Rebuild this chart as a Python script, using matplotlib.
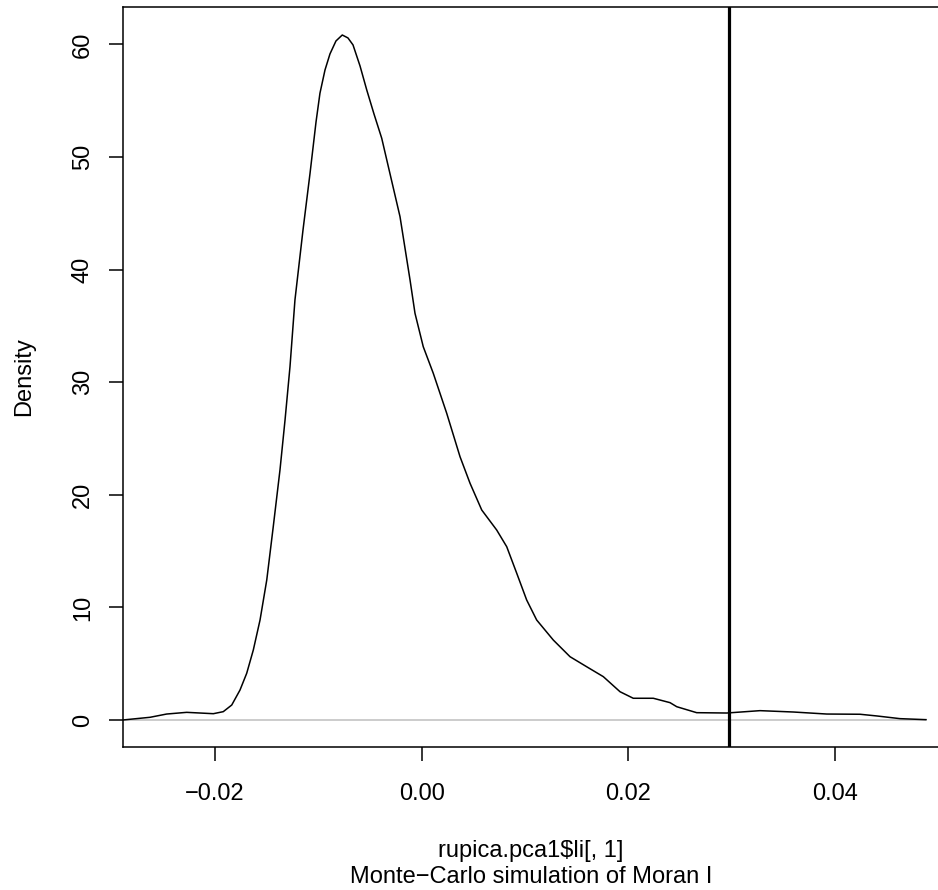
import matplotlib
matplotlib.use("Agg")
import matplotlib.pyplot as plt
import numpy as np

# density curve (Monte-Carlo simulation of Moran I)
dens_x = [-0.02894, -0.02630, -0.02469, -0.02275, -0.02146, -0.02017, -0.01921,
          -0.01839, -0.01759, -0.01694, -0.01630, -0.01565, -0.01500, -0.01437,
          -0.01372, -0.01323, -0.01275, -0.01227, -0.01149, -0.01081, -0.01023,
          -0.00985, -0.00936, -0.00888, -0.00830, -0.00769, -0.00714, -0.00665,
          -0.00597, -0.00532, -0.00462, -0.00387, -0.00210, -0.00113, -0.00065,
          0.00015, 0.00112, 0.00242, 0.00371, 0.00468, 0.00581, 0.00726,
          0.00823, 0.00920, 0.01016, 0.01113, 0.01274, 0.01436, 0.01597,
          0.01758, 0.01920, 0.02048, 0.02242, 0.02404, 0.02469, 0.02662,
          0.02953, 0.03275, 0.03597, 0.03921, 0.04243, 0.04405, 0.04630,
          0.04882]
dens_y = [0.0, 0.24, 0.53, 0.68, 0.62, 0.56, 0.74,
          1.33, 2.66, 4.15, 6.22, 8.88, 12.43, 17.17,
          22.20, 26.64, 31.38, 37.30, 43.52, 48.55, 53.11,
          55.66, 57.73, 59.15, 60.30, 60.83, 60.57, 59.95,
          58.08, 55.95, 53.82, 51.66, 44.70, 39.08, 36.12,
          33.15, 30.79, 27.24, 23.38, 21.02, 18.65, 16.87,
          15.39, 13.03, 10.66, 8.88, 7.10, 5.62, 4.73,
          3.85, 2.51, 1.93, 1.93, 1.54, 1.18, 0.65,
          0.62, 0.83, 0.71, 0.53, 0.51, 0.36, 0.12,
          0.03]
observed = 0.02975

xticks = [-0.02, 0.00, 0.02, 0.04]
xtick_labels = ["\u22120.02", "0.00", "0.02", "0.04"]
yticks = [0, 10, 20, 30, 40, 50, 60]
ytick_labels = ["0", "10", "20", "30", "40", "50", "60"]

plt.rcParams['font.family'] = ['Liberation Sans', 'DejaVu Sans']
plt.rcParams['font.size'] = 17

W, H = 938, 890
fig = plt.figure(figsize=(W / 100, H / 100), dpi=100)
ax = fig.add_axes([122.7 / W, (H - 746.7) / H, (938.5 - 122.7) / W, (746.7 - 7.3) / H])

ax.hlines(0, dens_x[0], dens_x[-1], color='#BEBEBE', lw=1.1, zorder=1)
ax.plot(dens_x, dens_y, color='black', lw=1.1, zorder=2, solid_joinstyle='round')
ax.axvline(observed, color='black', lw=2.3, zorder=3)

ax.set_xlim(-0.028945, 0.050029)
ax.set_ylim(-2.371, 63.29)

ax.set_xticks(xticks)
ax.set_xticklabels(xtick_labels, va='baseline')
ax.set_yticks(yticks)
ax.set_yticklabels(ytick_labels, rotation=90, rotation_mode='anchor',
                   ha='center', va='baseline')
ax.tick_params(axis='both', direction='out', length=10.1, width=1.1)
ax.tick_params(axis='x', pad=28.3)
ax.tick_params(axis='y', pad=14.2)
for s in ax.spines.values():
    s.set_linewidth(1.1)

fig.text(531 / W, (H - 856.7) / H, "rupica.pca1$li[, 1]", ha='center', va='baseline')
fig.text(531 / W, (H - 883.3) / H, "Monte\u2212Carlo simulation of Moran I",
         ha='center', va='baseline')
fig.text(30 / W, (H - 377) / H, "Density", rotation=90, rotation_mode='anchor',
         ha='center', va='baseline')

fig.savefig("out.png", dpi=100)
